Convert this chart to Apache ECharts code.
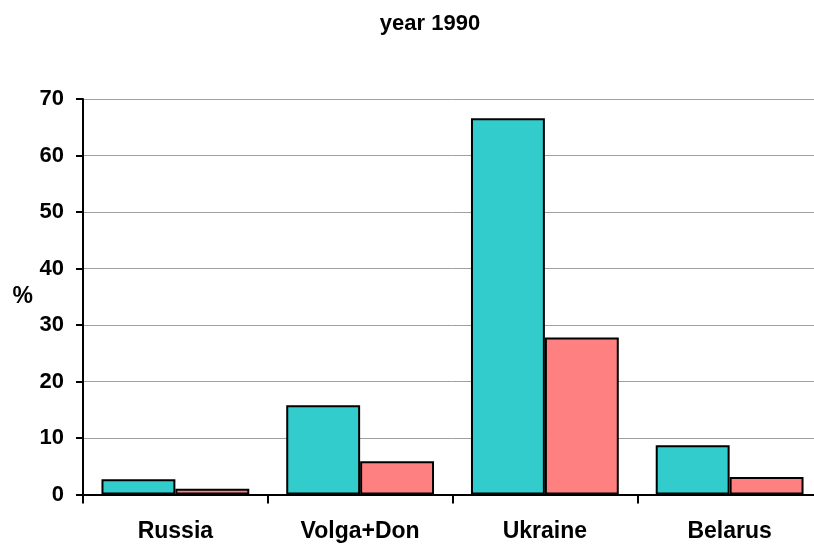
<!DOCTYPE html>
<html>
<head>
<meta charset="utf-8">
<script src="https://cdn.jsdelivr.net/npm/echarts@6/dist/echarts.min.js"></script>
<style>
  html, body { margin: 0; padding: 0; background: #fff; overflow: hidden; }
  #chart { width: 830px; height: 549px; }
</style>
</head>
<body>
<div id="chart"></div>
<script>
// categories and values
const regions = ['Russia', 'Volga+Don', 'Ukraine', 'Belarus'];
const seriesA = [2.7, 15.8, 66.6, 8.7];
const seriesB = [1.0, 5.9, 27.8, 3.1];

const FONT = '"Liberation Sans", Arial, sans-serif';

// the reference plot runs a little past the right edge, so the canvas is wider than the window
const chart = echarts.init(document.getElementById('chart'));

chart.setOption({
  animation: false,
  backgroundColor: '#fff',
  title: {
    text: 'year 1990',
    left: 425,
    top: 8,
    textAlign: 'center',
    textStyle: { fontFamily: FONT, fontSize: 22, fontWeight: 'bold', color: '#000' }
  },
  grid: { left: 83, right: 8, top: 99, bottom: 54.5, containLabel: false },
  xAxis: {
    type: 'category',
    data: regions,
    axisLine: { lineStyle: { color: '#000', width: 2 } },
    axisTick: { show: true, length: 9, interval: 0, lineStyle: { color: '#000', width: 2 } },
    axisLabel: { margin: 26, fontFamily: FONT, fontSize: 23, fontWeight: 'bold', color: '#000' }
  },
  yAxis: {
    type: 'value',
    min: 0,
    max: 70,
    interval: 10,
    name: '%',
    nameLocation: 'middle',
    nameRotate: 0,
    nameGap: 50,
    nameTextStyle: { fontFamily: FONT, fontSize: 23, fontWeight: 'bold', color: '#000', padding: [0, 0, 0, 0] },
    axisLine: { show: true, lineStyle: { color: '#000', width: 2 } },
    axisTick: { show: true, length: 7, lineStyle: { color: '#000', width: 2 } },
    axisLabel: { margin: 19, fontFamily: FONT, fontSize: 22, fontWeight: 'bold', color: '#000' },
    splitLine: { lineStyle: { color: '#a0a0a0', width: 1 } }
  },
  series: [
    {
      type: 'bar',
      data: seriesA,
      barGap: '0%',
      barCategoryGap: '20%',
      itemStyle: { color: '#33CCCC', borderColor: '#000', borderWidth: 2 }
    },
    {
      type: 'bar',
      data: seriesB,
      itemStyle: { color: '#FF8080', borderColor: '#000', borderWidth: 2 }
    }
  ]
});
</script>
</body>
</html>
